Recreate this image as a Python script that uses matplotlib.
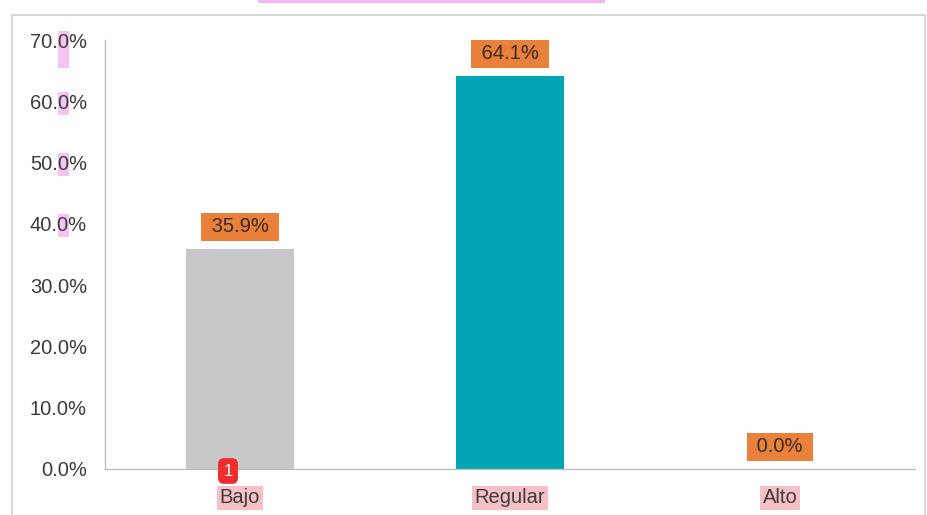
import matplotlib
matplotlib.use("Agg")
import matplotlib.pyplot as plt
from matplotlib.patches import Rectangle

plt.rcParams['font.family'] = ['Liberation Sans', 'DejaVu Sans']

categories = ["Bajo", "Regular", "Alto"]
values = [35.9, 64.1, 0.0]
bar_colors = ["#C8C8C8", "#00A6B4", "#C8C8C8"]
yticks = [0, 10, 20, 30, 40, 50, 60, 70]
marked_ticks = [40, 50, 60, 70]

W, H = 927, 515
FS = 14.5
TXT = "#3C3C3C"

fig = plt.figure(figsize=(W / 100, H / 100), dpi=100)
fig.patch.set_facecolor("white")

# outer frame of the panel
fig.patches.append(Rectangle((12 / W, -0.05), (925 - 12) / W, (H - 15) / H + 0.05,
                             transform=fig.transFigure, fill=False,
                             edgecolor="#D0D0D0", linewidth=1.2))
# highlighted strip of the heading above the panel
fig.patches.append(Rectangle((258 / W, (H - 3) / H), (605 - 258) / W, 3 / H,
                             transform=fig.transFigure, facecolor="#F2B6F2",
                             edgecolor="none"))

ax = fig.add_axes([105 / W, (H - 469) / H, (915 - 105) / W, (469 - 40) / H])
x = list(range(len(categories)))
ax.bar(x, values, width=0.4, color=bar_colors, zorder=2)

ax.set_xlim(-0.5, 2.5)
ax.set_ylim(0, 70)
ax.set_yticks(yticks)
ax.set_yticklabels([f"{v:.1f}%" for v in yticks])
ax.set_xticks(x)
ax.set_xticklabels(categories)

for lbl in ax.get_xticklabels():
    lbl.set_bbox(dict(boxstyle="square,pad=0.12", facecolor="#F7C0C6", edgecolor="none"))

ax.tick_params(axis="y", length=0, pad=13, labelsize=FS, labelcolor=TXT)
ax.tick_params(axis="x", length=0, pad=14, labelsize=FS, labelcolor=TXT)

for s in ["top", "right"]:
    ax.spines[s].set_visible(False)
for s in ["left", "bottom"]:
    ax.spines[s].set_color("#BDBDBD")
    ax.spines[s].set_linewidth(1.0)

for xi, v in zip(x, values):
    ax.annotate(f" {v:.1f}% ", xy=(xi, v), xytext=(0, 16), textcoords="offset points",
                ha="center", va="center", fontsize=FS, color="#3A2A20",
                bbox=dict(boxstyle="square,pad=0.22", facecolor="#EA813A", edgecolor="none"),
                zorder=3)

# marker badge
fig.text(228 / W, 1 - 471 / H, "1", ha="center", va="center", color="white",
         fontsize=12, bbox=dict(boxstyle="round,pad=0.32,rounding_size=0.35",
                                facecolor="#EE2E2E", edgecolor="none"), zorder=5)

# highlight the first decimal digit of the upper tick labels
fig.canvas.draw()
renderer = fig.canvas.get_renderer()
for lbl, val in zip(ax.get_yticklabels(), yticks):
    if val not in marked_ticks:
        continue
    bb = lbl.get_window_extent(renderer)
    s = lbl.get_text()
    probe = fig.text(0, 0, s[:3], fontsize=FS)
    w_pre = probe.get_window_extent(renderer).width
    probe.set_text(s[:4])
    w_dig = probe.get_window_extent(renderer).width - w_pre
    probe.remove()
    extra = 14 if val == 70 else 0
    fig.patches.append(Rectangle(((bb.x0 + w_pre) / W, (bb.y0 - 2 - extra) / H), w_dig / W,
                                 (bb.height + 4 + extra) / H,
                                 transform=fig.transFigure, facecolor="#F5C4F2",
                                 edgecolor="none", zorder=-1))

fig.savefig("out.png", dpi=100, facecolor="white")
